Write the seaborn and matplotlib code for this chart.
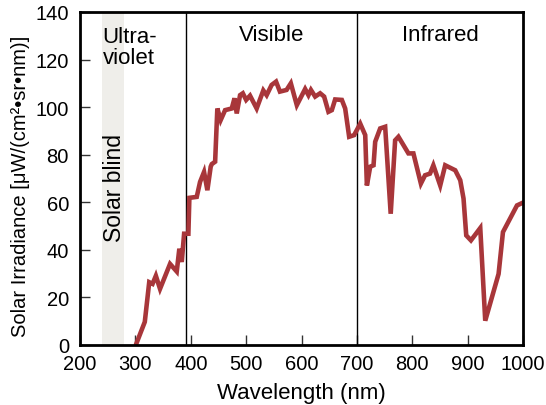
import numpy as np
import pandas as pd
import seaborn as sns
import matplotlib
matplotlib.use("Agg")
import matplotlib.pyplot as plt

# Solar irradiance spectrum
wavelength = [301, 317, 325, 331, 337, 344.5, 362.6, 374.7, 379.4, 383.7, 388, 395.7,
              397.5, 410.8, 416.8, 424, 430, 436, 438, 444, 448, 454, 462, 474, 479,
              483, 489, 494, 500, 507, 519, 531, 537, 546, 554, 561, 573, 580.7,
              591.5, 606.5, 612.5, 617, 624.6, 633.6, 640.8, 648.6, 654.7, 660.7,
              672.8, 678.8, 686, 695, 706, 715, 718, 724, 730, 733, 742, 751, 761,
              769, 775, 793, 802, 815.5, 823, 832, 838, 850.4, 859.4, 877.5, 886.6,
              892.5, 897.4, 905.9, 922.7, 931.7, 955.8, 963.7, 989, 1000]
irradiance = [0, 9.6, 26.3, 25.6, 29, 23.5, 34, 30.8, 40.4, 34.8, 46.7, 46.7,
              61.8, 62.2, 68.5, 72.7, 65, 74.9, 76, 77, 99.4, 94.5, 98.7, 99.4, 103.7,
              97.3, 105, 105.8, 103, 104.8, 99.4, 107, 105, 109.3, 110.7, 106.5, 107.2, 110,
              100.8, 107.6, 105, 107.2, 104.4, 105.8, 104.4, 98, 98.7, 103.2,
              103, 99.4, 87.5, 88.2, 93, 88.2, 67, 74.9, 75.5, 85.4, 91, 91.7, 55.1,
              86, 87.5, 80.5, 80.5, 67.8, 71.3, 72, 75.5, 67, 75.5, 73.4, 69.2,
              61.5, 46, 43.9, 49.1, 10.1, 29.8, 47.4, 58.6, 59.8]

region_bounds = [392, 700]
solar_blind = (240, 280)
region_labels = ["Ultra-\nviolet", "Visible", "Infrared"]
region_label_x = [241, 546, 850]

df = pd.DataFrame({"Wavelength": wavelength, "Irradiance": irradiance})

sns.set_style("ticks")
plt.rcParams['font.family'] = ['Liberation Sans', 'DejaVu Sans']
plt.rcParams['text.color'] = 'black'
plt.rcParams['axes.labelcolor'] = 'black'
plt.rcParams['xtick.color'] = 'black'
plt.rcParams['ytick.color'] = 'black'

fig = plt.figure(figsize=(5.46, 4.06), dpi=100)
ax = fig.add_axes([0.1465, 0.1485, 0.8115, 0.8195])

# shaded solar-blind band and region dividers
ax.axvspan(*solar_blind, color="#efeeea", lw=0, zorder=0)
for b in region_bounds:
    ax.axvline(b, color="black", lw=1.0, zorder=1)

sns.lineplot(data=df, x="Wavelength", y="Irradiance", estimator=None, sort=False,
             color="#a8363a", lw=3.3, ax=ax, zorder=2, solid_joinstyle="miter")

ax.set_xlim(200, 1000)
ax.set_ylim(0, 140)
ax.set_xticks(range(200, 1001, 100))
ax.set_yticks(range(0, 141, 20))
ax.tick_params(direction="in", length=7, width=1.0, labelsize=14.5,
               color="#333333", labelcolor="black")
ax.tick_params(axis="x", pad=7)
ax.tick_params(axis="y", pad=8)
for s in ax.spines.values():
    s.set_linewidth(2.0)
    s.set_color("black")

ax.set_xlabel("Wavelength (nm)", fontsize=16)
ax.xaxis.set_label_coords(0.5, -0.112)
ax.xaxis.label.set_va("top")
ax.set_ylabel("Solar Irradiance [\u03bcW/(cm\u00b2\u2022sr\u2022nm)]", fontsize=14.5)
ax.yaxis.set_label_coords(-0.113, 0.48)

ax.text(region_label_x[0], 134.3, region_labels[0], fontsize=16, ha="left", va="top",
        linespacing=1.0)
ax.text(region_label_x[1], 130.5, region_labels[1], fontsize=16, ha="center", va="center")
ax.text(region_label_x[2], 130.5, region_labels[2], fontsize=16, ha="center", va="center")
ax.text(263, 66.5, "Solar blind", fontsize=16.5, rotation=90, ha="center", va="center")

fig.savefig("out.png", dpi=100)
